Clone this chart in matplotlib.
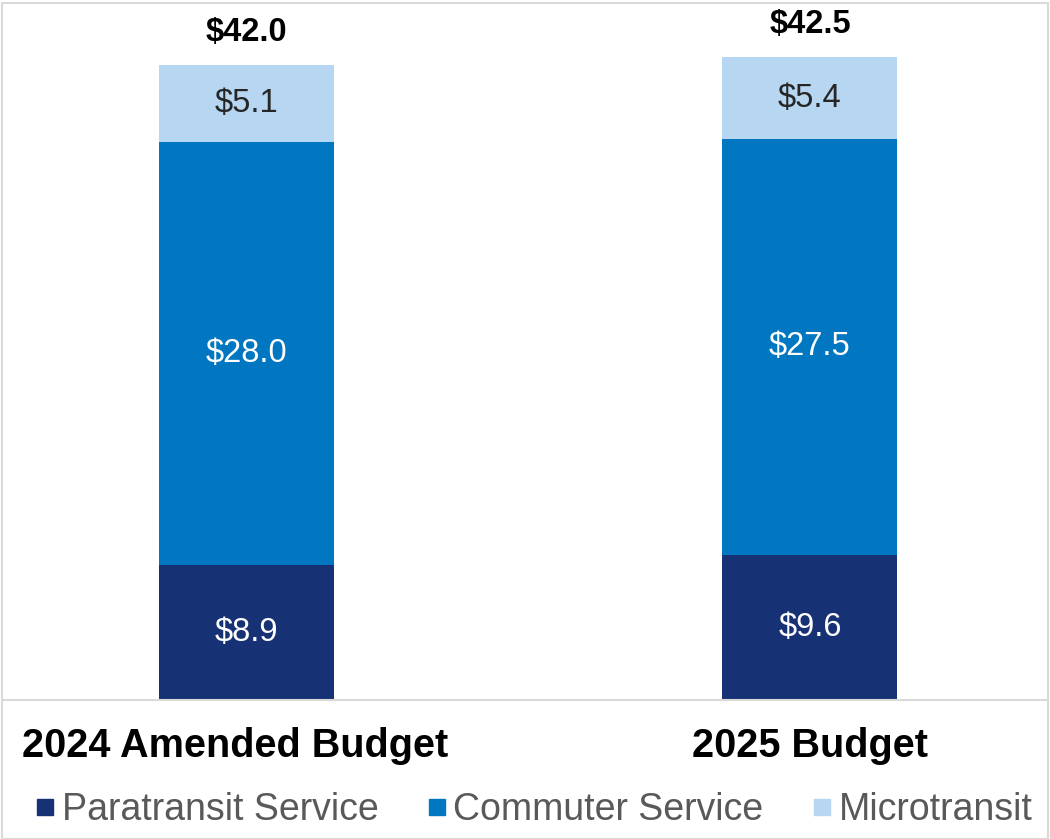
import matplotlib.pyplot as plt
from matplotlib.lines import Line2D
from matplotlib.patches import Rectangle

plt.rcParams['font.family'] = ['Liberation Sans', 'DejaVu Sans']

budgets = ["2024 Amended Budget", "2025 Budget"]
services = ["Paratransit Service", "Commuter Service", "Microtransit"]
paratransit = [8.9, 9.6]
commuter = [28.0, 27.5]
microtransit = [5.1, 5.4]
totals = [42.0, 42.5]

colors = ["#173274", "#0077c0", "#b6d6f1"]
label_colors = ["white", "white", "#262626"]

fig = plt.figure(figsize=(10.5, 8.39), dpi=100)
ax = fig.add_axes([3 / 1050, 139 / 839, 1044 / 1050, 697 / 839])

x = [0, 1]
bottom = [0, 0]
for vals, col, tcol in zip([paratransit, commuter, microtransit], colors, label_colors):
    bars = ax.bar(x, vals, width=0.311, bottom=bottom, color=col)
    for b, v, base in zip(bars, vals, bottom):
        ax.text(b.get_x() + b.get_width() / 2, base + v / 2, f"${v:.1f}",
                ha="center", va="center", color=tcol, fontsize=23.5)
    bottom = [a + b for a, b in zip(bottom, vals)]

for xi, t in zip(x, totals):
    ax.text(xi, t + 2.15, f"${t:.1f}", ha="center", va="center",
            fontsize=23.5, fontweight="bold", color="black")

# category names under the bars; the long one is nudged left so it fits
shifts = [-12, 0]
for xi, name, dx in zip(x, budgets, shifts):
    ax.annotate(name, xy=(xi, 0), xycoords=("data", "axes fraction"),
                xytext=(dx, -46), textcoords="offset pixels",
                ha="center", va="center", fontsize=28.5, fontweight="bold")

ax.set_xlim(-0.433, 1.421)
ax.set_ylim(0, 46.1)
ax.set_yticks([])
ax.set_xticks([])
for s in ["top", "right", "left"]:
    ax.spines[s].set_visible(False)
ax.spines["bottom"].set_color("#d9d9d9")
ax.spines["bottom"].set_linewidth(1.5)

handles = [Line2D([], [], marker="s", linestyle="none", markersize=12,
                  markerfacecolor=c, markeredgecolor=c) for c in colors]
leg = fig.legend(handles, services, loc="center", ncol=3,
                 bbox_to_anchor=(532 / 1050, 29 / 839), frameon=False,
                 fontsize=27, handletextpad=0.1, columnspacing=1.2,
                 handlelength=0.7, borderpad=0, borderaxespad=0)
for t in leg.get_texts():
    t.set_color("#595959")

# thin frame round the whole chart
fig.patches.append(Rectangle((2 / 1050, 0), 1046 / 1050, 836 / 839,
                             transform=fig.transFigure, fill=False,
                             edgecolor="#d9d9d9", linewidth=1.5))

fig.savefig("out.png", dpi=100)
